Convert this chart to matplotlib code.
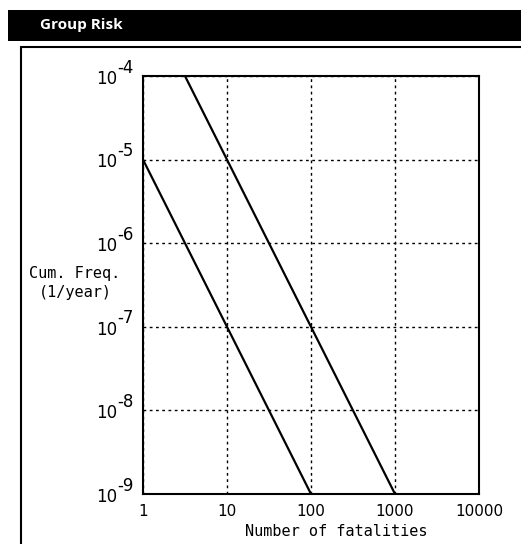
import matplotlib.pyplot as plt
from matplotlib.patches import Rectangle

# FN curves (group risk criteria lines)
upper_n = [3.16, 1000]
upper_f = [1e-4, 1e-9]
lower_n = [1, 100]
lower_f = [1e-5, 1e-9]

x_ticks = [1, 10, 100, 1000, 10000]
x_tick_labels = ["1", "10", "100", "1000", "10000"]
y_ticks = [1e-9, 1e-8, 1e-7, 1e-6, 1e-5, 1e-4]
y_exponents = ["-9", "-8", "-7", "-6", "-5", "-4"]

W, H = 521, 544
fig = plt.figure(figsize=(W / 100, H / 100), dpi=100)

# header bar
fig.patches.append(Rectangle((8 / W, 1 - 41 / H), 1 - 8 / W, 31 / H, transform=fig.transFigure,
                             facecolor="black", edgecolor="none"))
fig.text(40 / W, 1 - 25 / H, "Group Risk", color="white", fontsize=11, fontweight="bold",
         va="center", ha="left", family="Open Sans")

# outer panel frame
fig.patches.append(Rectangle((21 / W, -0.01), 1.1, 1 - 47 / H + 0.01, transform=fig.transFigure,
                             facecolor="none", edgecolor="black", linewidth=1.5))

ax = fig.add_axes([143 / W, 1 - 494 / H, 336 / W, 418 / H])
ax.plot(upper_n, upper_f, color="black", linewidth=1.6)
ax.plot(lower_n, lower_f, color="black", linewidth=1.6)
ax.set_xscale("log")
ax.set_yscale("log")
ax.set_xlim(1, 10000)
ax.set_ylim(1e-9, 1e-4)
ax.set_xticks(x_ticks)
ax.set_xticklabels(x_tick_labels)
ax.set_yticks(y_ticks)
ax.set_yticklabels([])
ax.minorticks_off()
ax.tick_params(length=0, labelsize=11, pad=7)
ax.grid(True, color="black", linestyle=(0, (2, 2.5)), linewidth=1)
for s in ax.spines.values():
    s.set_linewidth(1.5)

# y tick labels as 10 with a full-size raised exponent
for yv, ex in zip(y_ticks, y_exponents):
    ax.annotate("10", xy=(0, yv), xycoords=("axes fraction", "data"), xytext=(-18.5, -2),
                textcoords="offset points", ha="right", va="center", fontsize=12)
    ax.annotate(ex, xy=(0, yv), xycoords=("axes fraction", "data"), xytext=(-18.5, 6),
                textcoords="offset points", ha="left", va="center", fontsize=12)

fig.text(75 / W, 1 - 283 / H, "Cum. Freq.\n(1/year)", ha="center", va="center",
         fontsize=11, family="DejaVu Sans Mono", linespacing=1.3)
fig.text(336 / W, 1 - 531 / H, "Number of fatalities", ha="center", va="center",
         fontsize=11, family="DejaVu Sans Mono")

fig.savefig("out.png", dpi=100, facecolor="white")
